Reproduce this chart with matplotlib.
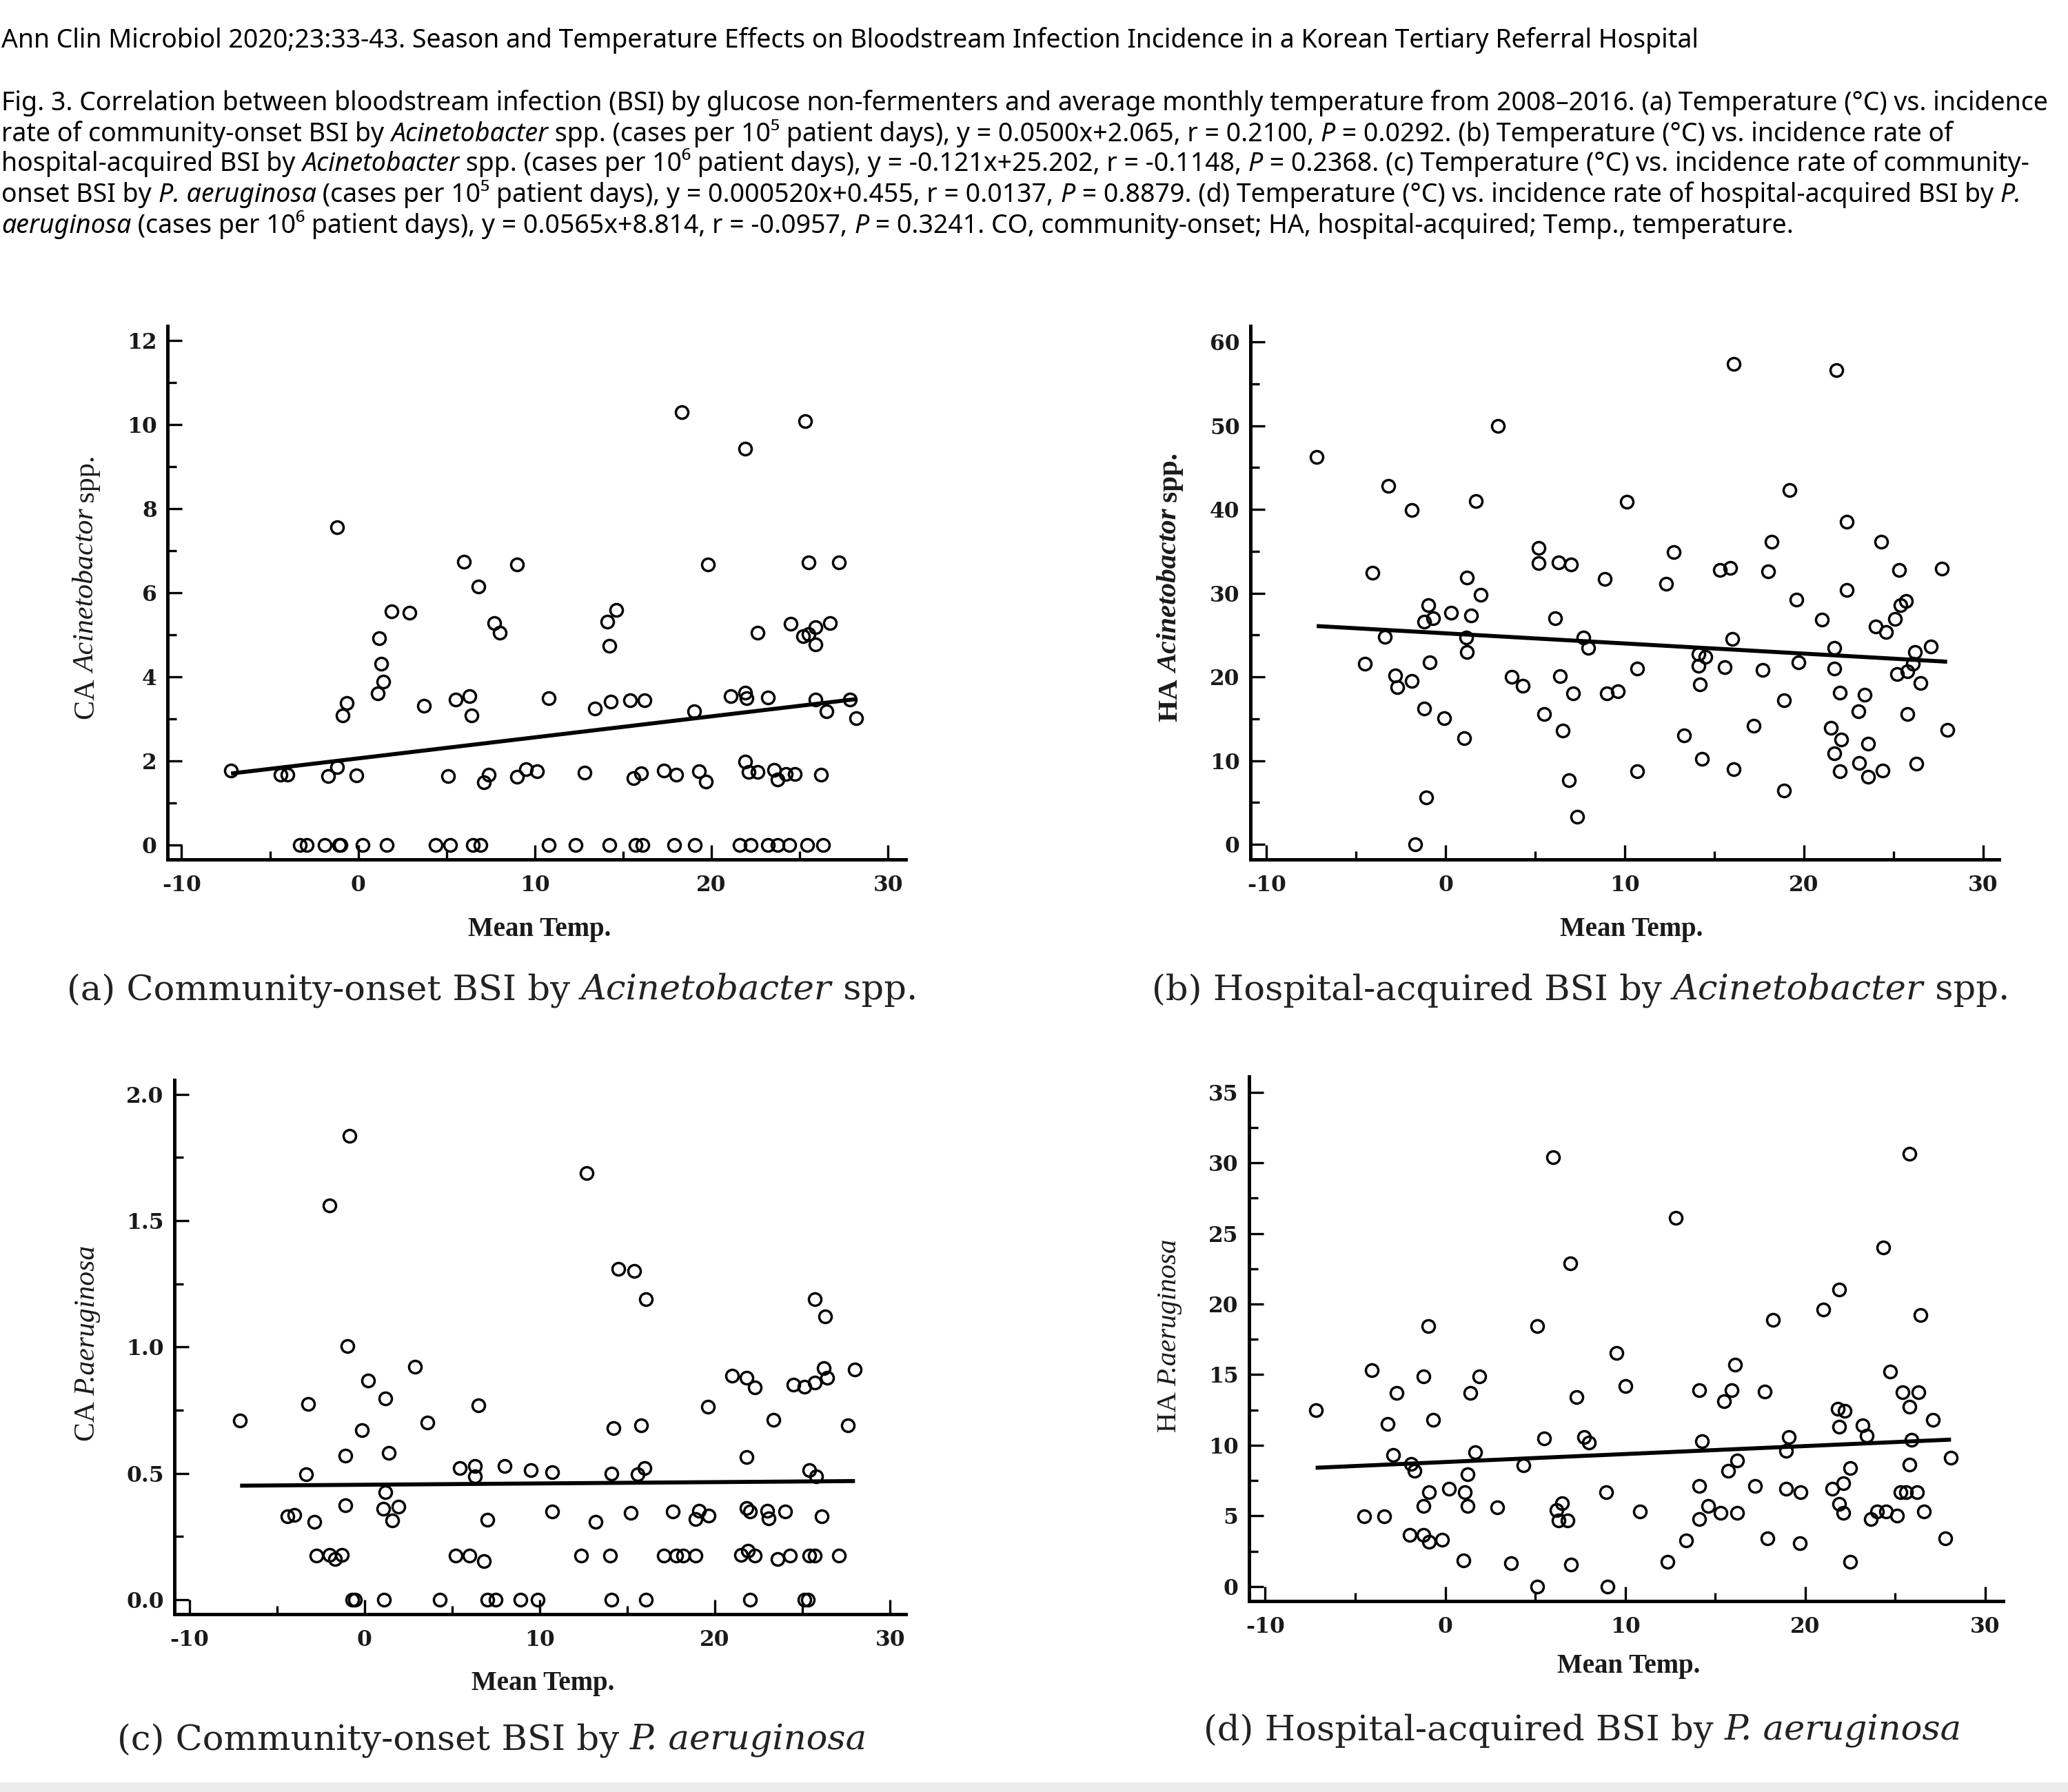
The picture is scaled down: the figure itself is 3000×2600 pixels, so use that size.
import numpy as np
import matplotlib
matplotlib.use('Agg')
import matplotlib.pyplot as plt
from matplotlib.ticker import MultipleLocator, FormatStrFormatter
from matplotlib.patches import Rectangle

# ---------------- data ----------------
temp_a = [-7.2, -4.4, -4.0, -1.7, -1.2, -0.1, -1.2, -0.9, -0.65, 1.1, 1.2, 1.3, 1.4, 1.9, 2.9, 3.7,
          5.1, 6.0, 6.8, 7.7, 8.0, 9.0, 5.5, 6.3, 6.4, 7.1, 7.4, 9.0, 9.5, 10.1, 10.8, 12.8,
          13.4, 14.3, 14.1, 14.2, 14.6, 15.4, 16.2, 15.6, 16.0, 17.3, 18.0, 18.3, 19.0, 19.3, 19.7, 19.8,
          21.1, 21.9, 22.0, 23.2, 21.9, 22.6, 21.9, 22.1, 22.6, 23.55, 23.75, 24.2, 24.7, 24.5, 25.2,
          25.5, 25.9, 25.9, 25.3, 25.5, 27.2, 26.7, 25.9, 26.5, 27.85, 28.2, 26.2,
          -3.3, -2.9, -1.9, -1.1, -1.0, 0.25, 1.6, 4.4, 5.2, 6.5, 6.9, 10.8, 12.3, 14.2, 15.7, 16.1,
          17.9, 19.06, 21.6, 22.2, 23.2, 23.75, 24.4, 25.4, 26.3]
rate_a = [1.78, 1.68, 1.68, 1.64, 1.85, 1.66, 7.56, 3.08, 3.38, 3.61, 4.93, 4.32, 3.89, 5.57, 5.53, 3.31,
          1.65, 6.74, 6.16, 5.29, 5.05, 6.68, 3.47, 3.55, 3.09, 1.50, 1.67, 1.62, 1.81, 1.76, 3.49, 1.73,
          3.25, 3.41, 5.31, 4.74, 5.60, 3.45, 3.45, 1.59, 1.71, 1.78, 1.68, 10.30, 3.19, 1.76, 1.52, 6.68,
          3.54, 3.62, 3.49, 3.52, 9.43, 5.05, 1.98, 1.74, 1.74, 1.79, 1.57, 1.70, 1.69, 5.26, 4.98,
          5.02, 4.77, 5.18, 10.08, 6.73, 6.73, 5.28, 3.46, 3.18, 3.46, 3.02, 1.67,
          0.0, 0.0, 0.0, 0.0, 0.0, 0.0, 0.0, 0.0, 0.0, 0.0, 0.0, 0.0, 0.0, 0.0, 0.0, 0.0,
          0.0, 0.0, 0.0, 0.0, 0.0, 0.0, 0.0, 0.0, 0.0]

temp_b = [-7.2, -4.1, -4.5, -3.2, -3.4, -2.8, -2.7, -1.9, -1.9, -1.7, -1.2, -1.2, -0.96, -0.7, -0.9, -1.1,
          -0.1, 0.3, 1.05, 1.15, 1.2, 1.2, 1.4, 1.7, 1.95, 2.9, 3.7, 4.3, 5.2, 5.2, 5.5, 6.1,
          6.3, 7.0, 6.4, 6.55, 7.1, 6.9, 7.35, 7.7, 7.95, 8.9, 9.0, 9.6, 10.1, 10.7, 10.7, 12.3,
          12.75, 13.3, 14.1, 14.5, 14.1, 14.2, 14.3, 15.3, 15.9, 15.6, 16.0, 16.1, 16.1, 17.2,
          17.7, 18.0, 18.2, 18.9, 18.9, 19.2, 19.6, 19.7, 21.0, 21.5, 21.8, 21.7, 21.7, 21.7,
          22.1, 22.0, 22.0, 22.4, 22.4, 23.05, 23.1, 23.4, 23.6, 23.6, 24.3, 24.0, 24.6, 24.4,
          25.1, 25.3, 25.2, 25.4, 25.7, 25.8, 26.2, 26.1, 25.8, 26.3, 26.5, 27.1, 27.7, 28.0]
rate_b = [46.3, 32.4, 21.6, 42.8, 24.8, 20.2, 18.8, 19.5, 39.9, 0.0, 16.2, 26.6, 28.6, 27.0, 21.7, 5.6,
          15.1, 27.7, 12.7, 24.7, 23.0, 31.9, 27.3, 41.0, 29.8, 50.0, 20.0, 18.9, 35.4, 33.6, 15.6, 27.0,
          33.7, 33.4, 20.1, 13.6, 18.0, 7.65, 3.3, 24.7, 23.5, 31.7, 18.0, 18.3, 40.9, 21.0, 8.7, 31.1,
          34.9, 13.0, 22.7, 22.4, 21.3, 19.1, 10.2, 32.8, 33.0, 21.2, 24.5, 57.4, 9.0, 14.2,
          20.8, 32.6, 36.1, 6.4, 17.2, 42.3, 29.2, 21.7, 26.8, 13.9, 56.6, 23.5, 21.0, 10.9,
          12.5, 18.1, 8.7, 38.5, 30.4, 15.9, 9.7, 17.9, 12.0, 8.1, 36.1, 26.0, 25.35, 8.8,
          26.9, 32.8, 20.3, 28.6, 29.05, 20.7, 23.0, 21.6, 15.6, 9.6, 19.3, 23.6, 32.9, 13.7]

temp_c = [-7.1, -4.4, -4.0, -3.35, -3.2, -2.85, -2.76, -2.0, -1.7, -1.3, -2.0, -1.1, -1.1, -0.97, -0.85,
          -0.7, -0.55, -0.16, 0.2, 1.1, 1.07, 1.2, 1.2, 1.4, 1.6, 1.95, 2.9, 3.6, 4.3, 5.2,
          5.45, 6.3, 6.3, 6.0, 6.5, 6.8, 7.0, 7.0, 7.5, 8.0, 8.9, 9.9, 9.5, 10.7, 10.7,
          12.35, 12.7, 13.2, 14.0, 14.1, 14.2, 14.1, 14.5, 15.4, 15.2, 15.6, 15.8, 16.0, 16.05, 16.05,
          17.1, 17.8, 18.2, 18.9, 17.6, 18.9, 19.1, 19.65, 19.6, 21.0, 21.5, 21.8, 22.3, 21.8, 21.8,
          22.0, 21.9, 22.3, 22.0, 23.0, 23.05, 23.35, 23.6, 24.0, 24.3, 25.4, 24.5, 25.1, 25.1, 25.3,
          25.4, 25.8, 25.7, 25.7, 25.7, 26.1, 26.2, 26.4, 26.3, 27.1, 27.6, 28.0]
rate_c = [0.71, 0.33, 0.336, 0.496, 0.774, 0.308, 0.174, 0.177, 0.16, 0.177, 1.56, 0.374, 0.57, 1.003, 1.835,
          0.0, 0.0, 0.67, 0.866, 0.0, 0.36, 0.426, 0.797, 0.58, 0.313, 0.369, 0.922, 0.70, 0.0, 0.174,
          0.52, 0.53, 0.487, 0.174, 0.77, 0.153, 0.317, 0.0, 0.0, 0.53, 0.0, 0.0, 0.513, 0.504, 0.348,
          0.174, 1.687, 0.308, 0.174, 0.50, 0.68, 0.0, 1.308, 1.30, 0.343, 0.496, 0.69, 0.52, 1.19, 0.0,
          0.174, 0.174, 0.174, 0.174, 0.348, 0.318, 0.351, 0.334, 0.765, 0.887, 0.177, 0.878, 0.84, 0.565, 0.362,
          0.348, 0.195, 0.174, 0.0, 0.351, 0.322, 0.713, 0.16, 0.348, 0.174, 0.174, 0.852, 0.843, 0.0, 0.0,
          0.513, 0.487, 0.174, 1.19, 0.86, 0.33, 0.917, 0.878, 1.12, 0.174, 0.69, 0.91]

temp_d = [-7.2, -4.5, -4.1, -3.4, -3.2, -2.9, -2.7, -1.9, -1.7, -1.97, -1.2, -0.9, -1.2, -1.2, -0.95,
          -0.9, -0.67, -0.16, 0.22, 1.0, 1.08, 1.24, 1.24, 1.4, 1.65, 1.9, 2.9, 3.65, 4.35, 5.1,
          5.1, 5.5, 6.0, 6.2, 6.3, 6.8, 6.5, 6.95, 7.0, 7.3, 7.7, 8.0, 8.95, 9.0, 9.5,
          10.0, 10.8, 12.35, 12.8, 13.4, 14.1, 14.1, 14.25, 14.1, 14.6, 15.3, 15.5, 15.9, 15.7, 16.1,
          16.2, 16.2, 17.2, 17.75, 17.9, 18.2, 18.95, 19.1, 18.95, 19.7, 19.75, 21.0, 21.5, 21.9, 21.8,
          22.2, 21.9, 21.9, 22.1, 22.1, 22.5, 22.5, 23.2, 23.4, 23.65, 24.0, 24.5, 24.35, 24.7, 25.1,
          25.3, 25.6, 25.4, 25.8, 25.8, 25.8, 25.9, 26.2, 26.3, 26.4, 26.6, 27.1, 27.8, 28.1]
rate_d = [12.5, 4.98, 15.3, 4.98, 11.5, 9.3, 13.7, 8.7, 8.2, 3.64, 3.64, 3.17, 5.7, 14.9, 18.45,
          6.7, 11.8, 3.33, 6.94, 1.87, 6.7, 7.93, 5.7, 13.7, 9.5, 14.9, 5.6, 1.65, 8.6, 0.0,
          18.45, 10.5, 30.4, 5.4, 4.67, 4.67, 5.9, 22.9, 1.56, 13.4, 10.6, 10.2, 6.7, 0.0, 16.55,
          14.2, 5.3, 1.77, 26.1, 3.27, 13.9, 7.1, 10.3, 4.76, 5.7, 5.2, 13.1, 13.9, 8.2, 15.7,
          8.9, 5.2, 7.1, 13.8, 3.4, 18.9, 9.6, 10.6, 6.9, 3.05, 6.7, 19.6, 6.9, 21.0, 12.6,
          12.45, 11.3, 5.85, 7.3, 5.2, 8.4, 1.77, 11.4, 10.7, 4.8, 5.3, 5.3, 24.0, 15.2, 5.0,
          6.7, 6.7, 13.75, 30.65, 12.75, 8.65, 10.4, 6.7, 13.75, 19.2, 5.3, 11.8, 3.4, 9.1]

# regression lines given in the caption: y = slope * x + intercept
slopes = [0.0500, -0.121, 0.000520, 0.0565]
intercepts = [2.065, 25.202, 0.455, 8.814]

y_titles = [("CA ", "Acinetobactor", " spp."), ("HA ", "Acinetobactor", " spp."),
            ("CA ", "P.aeruginosa", ""), ("HA ", "P.aeruginosa", "")]
x_title = "Mean Temp."
panel_captions = [("(a) Community-onset BSI by ", "Acinetobacter", " spp."),
                  ("(b) Hospital-acquired BSI by ", "Acinetobacter", " spp."),
                  ("(c) Community-onset BSI by ", "P. aeruginosa", ""),
                  ("(d) Hospital-acquired BSI by ", "P. aeruginosa", "")]

header_title = ("Ann Clin Microbiol 2020;23:33-43. Season and Temperature Effects on Bloodstream "
                "Infection Incidence in a Korean Tertiary Referral Hospital")
header_lines = [
    [("Fig. 3. Correlation between bloodstream infection (BSI) by glucose non-fermenters and average monthly "
      "temperature from 2008\u20132016. (a) Temperature (\u00b0C) vs. incidence", 0)],
    [("rate of community-onset BSI by ", 0), ("Acinetobacter", 1),
     (" spp. (cases per 10\u2075 patient days), y = 0.0500x+2.065, r = 0.2100, ", 0), ("P", 1),
     (" = 0.0292. (b) Temperature (\u00b0C) vs. incidence rate of", 0)],
    [("hospital-acquired BSI by ", 0), ("Acinetobacter", 1),
     (" spp. (cases per 10\u2076 patient days), y = -0.121x+25.202, r = -0.1148, ", 0), ("P", 1),
     (" = 0.2368. (c) Temperature (\u00b0C) vs. incidence rate of community-", 0)],
    [("onset BSI by ", 0), ("P. aeruginosa", 1),
     (" (cases per 10\u2075 patient days), y = 0.000520x+0.455, r = 0.0137, ", 0), ("P", 1),
     (" = 0.8879. (d) Temperature (\u00b0C) vs. incidence rate of hospital-acquired BSI by ", 0), ("P.", 1)],
    [("aeruginosa", 1), (" (cases per 10\u2076 patient days), y = 0.0565x+8.814, r = -0.0957, ", 0), ("P", 1),
     (" = 0.3241. CO, community-onset; HA, hospital-acquired; Temp., temperature.", 0)],
]

# ---------------- figure ----------------
W, H = 3000, 2600
plt.rcParams['axes.unicode_minus'] = False
plt.rcParams['font.family'] = ['DejaVu Serif']
fig = plt.figure(figsize=(W / 100, H / 100), dpi=100, facecolor='white')
renderer = fig.canvas.get_renderer()


def text_w(s, props):
    t = fig.text(0, 0, '|' + s + '|', **props)
    w = t.get_window_extent(renderer).width
    t.remove()
    t = fig.text(0, 0, '||', **props)
    w -= t.get_window_extent(renderer).width
    t.remove()
    return w


def rich(x, y, segs, size, base, rotation=0, align='left', target=None):
    """segs: list of (text, italic_flag); x, y in pixels from top-left; y is the baseline."""
    def props(it, sz):
        p = dict(base)
        p['fontstyle'] = 'italic' if it else 'normal'
        p['fontsize'] = sz
        return p
    if target is not None:
        tot = sum(text_w(s, props(it, size)) for s, it in segs)
        size = size * target / tot
    widths = [text_w(s, props(it, size)) for s, it in segs]
    tot = sum(widths)
    pos = -tot / 2 if align == 'center' else 0
    for (s, it), w in zip(segs, widths):
        if rotation == 0:
            px, py = x + pos, y
        else:
            px, py = x, y - pos
        fig.text(px / W, 1 - py / H, s, rotation=rotation, rotation_mode='anchor',
                 ha='left', va='baseline', **props(it, size))
        pos += w
    return size


sans = dict(family=['Noto Sans', 'DejaVu Sans'], color='black')
serif = dict(family=['DejaVu Serif'], color='#222222')

# header
rich(2, 69, [(header_title, 0)], 24, sans, target=2472)
hs = rich(2, 160, header_lines[0], 24, sans, target=2978)
for i, line in enumerate(header_lines[1:]):
    rich(2, [205, 248, 293, 338][i], line, hs, sans)

# axes geometry in pixels: left, right, bottom, top
boxes = [(243, 1314, 1247, 473), (1814, 2900, 1247, 473),
         (253, 1314, 2342, 1567), (1812, 2906, 2323, 1562)]
xlims = [(-10.8, 31.0), (-10.9, 30.9), (-10.85, 30.9), (-10.9, 31.0)]
ylims = [(-0.34, 12.35), (-1.8, 61.9), (-0.057, 2.056), (-1.03, 36.1)]
ymajor = [2, 10, 0.5, 5]
yminor = [1, 5, 0.25, 2.5]
yfmt = ['%d', '%d', '%.1f', '%d']
temps = [temp_a, temp_b, temp_c, temp_d]
rates = [rate_a, rate_b, rate_c, rate_d]

ylab_pos = [(137, 852), (1708, 852), (137, 1949), (1706, 1938)]
ylab_len = [384, 390, 284, 280]
ylab_bold = [False, True, False, False]
xlab_pos = [(783, 1358), (2367, 1358), (788, 2452), (2363, 2427)]
cap_pos = [(714, 1450), (2293, 1450), (714, 2539), (2296, 2525)]

for k in range(4):
    l, r, b, t = boxes[k]
    ax = fig.add_axes([l / W, 1 - b / H, (r - l) / W, (b - t) / H])
    ax.set_facecolor('none')
    x = np.array(temps[k])
    y = np.array(rates[k])
    ax.plot(x, y, linestyle='none', marker='o', markersize=13, markerfacecolor='none',
            markeredgecolor='black', markeredgewidth=2.5, zorder=3)
    xx = np.array([x.min(), x.max()])
    ax.plot(xx, slopes[k] * xx + intercepts[k], color='black', lw=4.2, zorder=4,
            solid_capstyle='butt')
    ax.set_xlim(*xlims[k])
    ax.set_ylim(*ylims[k])
    for s in ['top', 'right']:
        ax.spines[s].set_visible(False)
    for s in ['left', 'bottom']:
        ax.spines[s].set_linewidth(3.6)
    ax.xaxis.set_major_locator(MultipleLocator(10))
    ax.xaxis.set_minor_locator(MultipleLocator(5))
    ax.yaxis.set_major_locator(MultipleLocator(ymajor[k]))
    ax.yaxis.set_minor_locator(MultipleLocator(yminor[k]))
    ax.yaxis.set_major_formatter(FormatStrFormatter(yfmt[k]))
    ax.tick_params(which='both', direction='in', width=2.4, top=False, right=False)
    ax.tick_params(which='major', length=15, labelsize=22.5)
    ax.tick_params(which='minor', length=9)
    ax.tick_params(axis='x', which='major', pad=16)
    ax.tick_params(axis='y', which='major', pad=11)
    for lbl in ax.get_xticklabels() + ax.get_yticklabels():
        lbl.set_fontweight('bold')
        lbl.set_family(['DejaVu Serif'])
        lbl.set_color('#1a1a1a')

    pre, itx, post = y_titles[k]
    ybase = dict(family=['Liberation Serif'], color='#1a1a1a',
                 fontweight='bold' if ylab_bold[k] else 'normal')
    segs = [(pre, 0), (itx, 1)] + ([(post, 0)] if post else [])
    rich(ylab_pos[k][0], ylab_pos[k][1], segs, 28, ybase, rotation=90, align='center',
         target=ylab_len[k])

    fig.text(xlab_pos[k][0] / W, 1 - xlab_pos[k][1] / H, x_title, ha='center', va='baseline',
             fontsize=28, fontweight='bold', family=['Liberation Serif'], color='#1a1a1a')

cs = None
for k in range(4):
    pre, itx, post = panel_captions[k]
    segs = [(pre, 0), (itx, 1)] + ([(post, 0)] if post else [])
    if k == 0:
        cs = rich(cap_pos[k][0], cap_pos[k][1], segs, 34, serif, align='center', target=1237)
    else:
        rich(cap_pos[k][0], cap_pos[k][1], segs, cs, serif, align='center')

# faint grey strip along the bottom edge of the page
fig.patches.append(Rectangle((0, 0), 1, 14 / H, transform=fig.transFigure,
                             facecolor='#ececec', edgecolor='none'))

fig.savefig('out.png', dpi=100, facecolor='white')
